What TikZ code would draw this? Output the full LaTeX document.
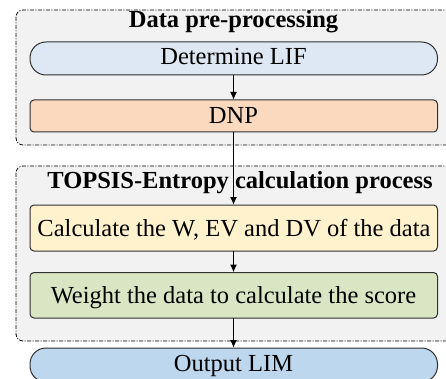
\documentclass[tikz,border=0pt]{standalone}
\usepackage{fontspec}
\setmainfont{Liberation Serif}
\usetikzlibrary{arrows.meta}

\definecolor{groupbg}{HTML}{F2F2F2}
\definecolor{lifblue}{HTML}{DEE8F4}
\definecolor{dnporange}{HTML}{FBD9BF}
\definecolor{calcyellow}{HTML}{FFF2CC}
\definecolor{weightgreen}{HTML}{DAE5C3}
\definecolor{outblue}{HTML}{BDD7EE}
\definecolor{edgegray}{HTML}{303030}

\tikzset{
  groupbox/.style={draw=black, fill=groupbg, line width=0.8pt,
    dash pattern=on 4pt off 1.5pt on 1pt off 1.5pt, rounded corners=7pt},
  pill/.style={draw=edgegray, line width=1pt, rounded corners=16pt},
  stepbox/.style={draw=edgegray, line width=1pt, rounded corners=4pt},
  label/.style={font=\fontsize{24.5}{28}\selectfont, anchor=base, inner sep=0pt},
  title/.style={label, font=\fontsize{24.5}{28}\selectfont\bfseries},
  flow/.style={-{Latex[length=8pt,width=7pt]}, line width=1.8pt, black},
}

\begin{document}
\begin{tikzpicture}[x=1pt, y=-1pt]
  \useasboundingbox (0,0) rectangle (446,379);
  \clip (0,0) rectangle (446,379);

  % group frames
  \draw[groupbox] (16,10) rectangle (458,145);
  \draw[groupbox] (16,166) rectangle (458,341);

  % group titles
  \node[title] (t1) at (233.5,28) {Data pre-processing};
  \node[title] (t2) at (240,188.5) {TOPSIS-Entropy calculation process};

  % process shapes
  \draw[pill, fill=lifblue] (30,42) rectangle (437.5,75);
  \draw[stepbox, fill=dnporange] (30,100) rectangle (437.5,132);
  \draw[stepbox, fill=calcyellow] (30,205) rectangle (437.5,251);
  \draw[stepbox, fill=weightgreen] (30,272.5) rectangle (437.5,318);
  \draw[pill, fill=outblue] (30,348) rectangle (437.5,382);

  % anchor coordinates on the shapes
  \coordinate (lifB) at (233.5,75);
  \coordinate (dnpT) at (233.5,100);
  \coordinate (dnpB) at (233.5,132);
  \coordinate (calcT) at (233.5,205);
  \coordinate (calcB) at (233.5,251);
  \coordinate (wT) at (233.5,272.5);
  \coordinate (wB) at (233.5,318);
  \coordinate (outT) at (233.5,348);

  % texts
  \node[label] (lif) at (233.5,64.3) {Determine LIF};
  \node[label] (dnp) at (233.5,123.5) {DNP};
  \node[label] (calc) at (234,236) {Calculate the W, EV and DV of the data};
  \node[label] (wgt) at (233.5,303.3) {Weight the data to calculate the score};
  \node[label] (out) at (233.5,371.7) {Output LIM};

  % connectors
  \draw[flow] (lifB) -- (dnpT);
  \draw[flow] (dnpB) -- (calcT);
  \draw[flow] (calcB) -- (wT);
  \draw[flow] (wB) -- (outT);
\end{tikzpicture}
\end{document}
